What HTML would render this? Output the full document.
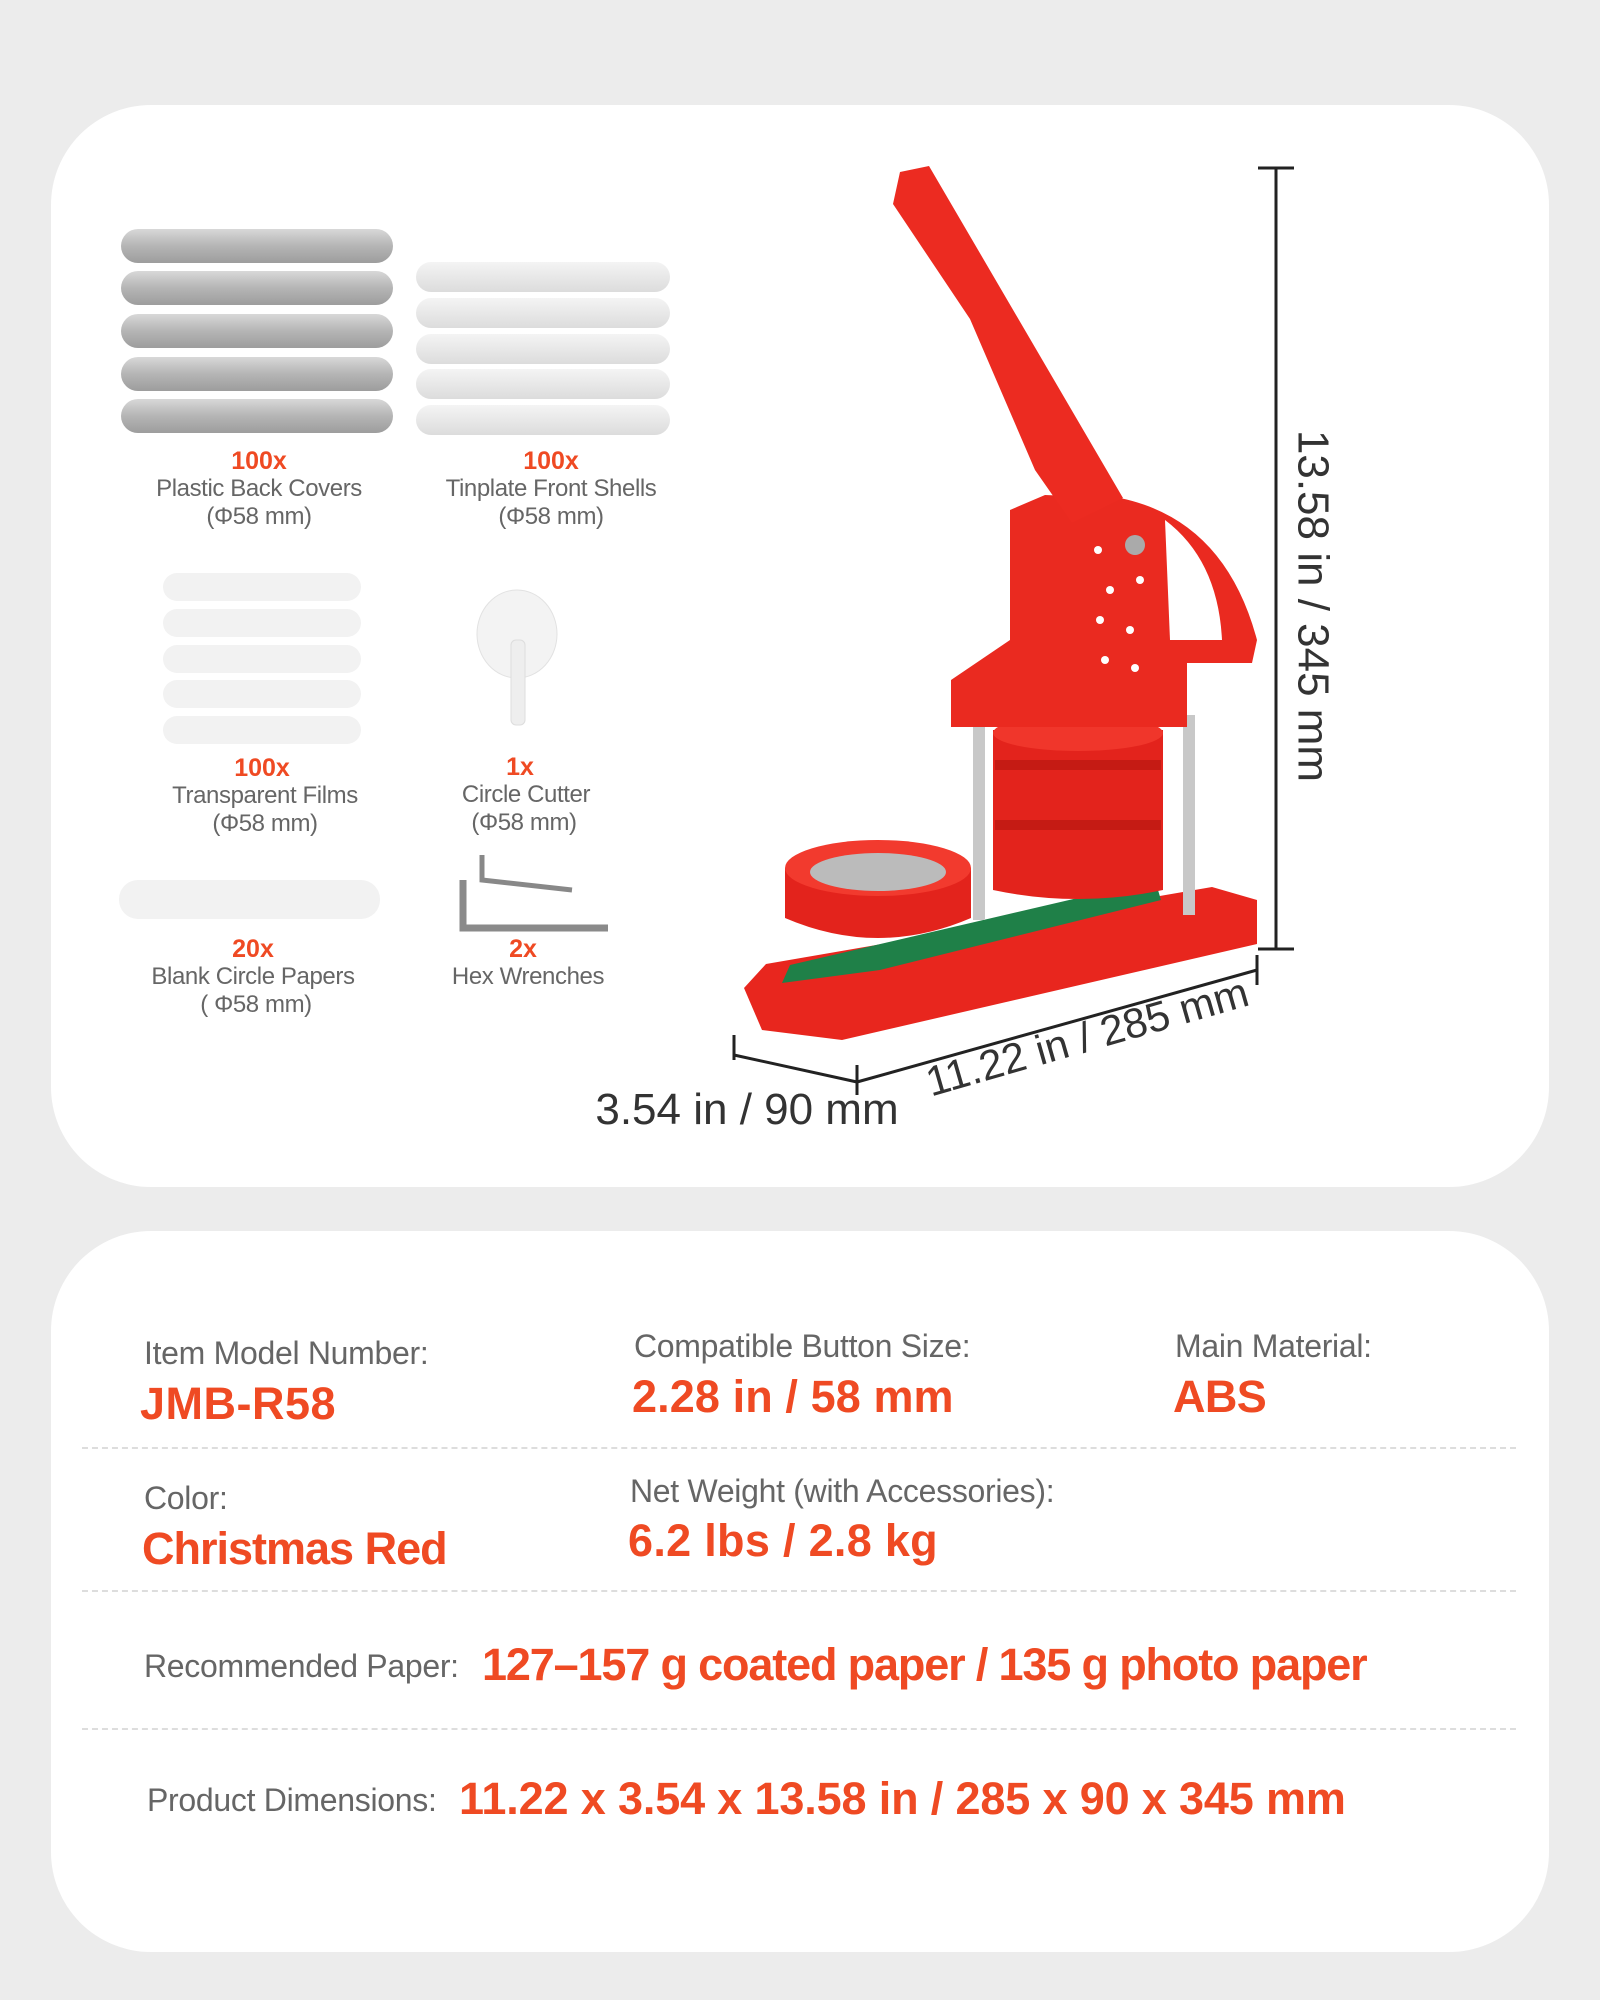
<!DOCTYPE html>
<html><head><meta charset="utf-8"><style>
body{margin:0;width:1600px;height:2000px;background:#ececec;position:relative;overflow:hidden;font-family:"Liberation Sans",sans-serif}
.card{position:absolute;left:51px;width:1498px;background:#fff;border-radius:100px}
.t{position:absolute;white-space:nowrap;line-height:1}
.g{color:#666;font-size:32px;letter-spacing:-0.3px}
.o{color:#ef4a23;font-weight:bold;font-size:45px;letter-spacing:-0.6px}
.c{transform:translateX(-50%);text-align:center}
.q{font-weight:bold;color:#ef4a23;font-size:25px}
.s{color:#666;font-size:24px;letter-spacing:-0.4px}
.dash{position:absolute;left:82px;width:1434px;border-top:2px dashed #ddd}
</style></head><body>
<div class="card" style="top:105px;height:1082px"></div>
<div class="card" style="top:1231px;height:721px"></div>

<svg style="position:absolute;left:0;top:0" width="1600" height="1200">
<defs>
<linearGradient id="gr" x1="0" y1="0" x2="0" y2="1"><stop offset="0" stop-color="#d8d8d8"/><stop offset=".5" stop-color="#b5b5b5"/><stop offset="1" stop-color="#9d9d9d"/></linearGradient>
<linearGradient id="lg" x1="0" y1="0" x2="0" y2="1"><stop offset="0" stop-color="#f4f4f4"/><stop offset="1" stop-color="#dcdcdc"/></linearGradient>
</defs>
<g fill="url(#gr)">
<rect x="121" y="229" width="272" height="34" rx="17"/><rect x="121" y="271" width="272" height="34" rx="17"/><rect x="121" y="314" width="272" height="34" rx="17"/><rect x="121" y="357" width="272" height="34" rx="17"/><rect x="121" y="399" width="272" height="34" rx="17"/>
</g>
<g fill="url(#lg)">
<rect x="416" y="262" width="254" height="30" rx="15"/><rect x="416" y="298" width="254" height="30" rx="15"/><rect x="416" y="334" width="254" height="30" rx="15"/><rect x="416" y="369" width="254" height="30" rx="15"/><rect x="416" y="405" width="254" height="30" rx="15"/>
</g>
<g fill="#f2f2f2">
<rect x="163" y="573" width="198" height="28" rx="14"/><rect x="163" y="609" width="198" height="28" rx="14"/><rect x="163" y="645" width="198" height="28" rx="14"/><rect x="163" y="680" width="198" height="28" rx="14"/><rect x="163" y="716" width="198" height="28" rx="14"/>
<rect x="119" y="880" width="261" height="39" rx="19"/>
</g>
<ellipse cx="517" cy="634" rx="40" ry="44" fill="#f3f3f3" stroke="#e2e2e2"/>
<rect x="511" y="640" width="14" height="85" rx="5" fill="#eee" stroke="#ddd"/>
<path d="M482 855 L482 880 L572 890" fill="none" stroke="#888" stroke-width="5"/>
<path d="M463 880 L463 928 L608 928" fill="none" stroke="#8a8a8a" stroke-width="7"/>

<path d="M744 988 L762 1030 L842 1040 L1257 944 L1257 900 L1212 887 L766 964 Z" fill="#e8261e"/>
<path d="M782 983 L880 970 L1161 900 L1155 880 L790 965 Z" fill="#1f8048"/>
<rect x="973" y="715" width="12" height="205" fill="#c8c8c8"/>
<rect x="1183" y="715" width="12" height="200" fill="#c8c8c8"/>
<path d="M993 730 h170 v160 q-85 18 -170 0 Z" fill="#e3231c"/>
<ellipse cx="1078" cy="733" rx="85" ry="18" fill="#f0362b"/>
<rect x="995" y="760" width="166" height="10" fill="#c51b14"/>
<rect x="995" y="820" width="166" height="10" fill="#c51b14"/>
<path d="M785 868 v50 q93 40 186 0 v-50 Z" fill="#e3231c"/>
<ellipse cx="878" cy="868" rx="93" ry="28" fill="#f23a2e"/>
<ellipse cx="878" cy="872" rx="68" ry="19" fill="#bbb"/>
<path d="M951 680 L1010 640 L1010 510 L1045 495 L1120 498 Q1225 520 1257 640 L1252 663 L1187 663 L1187 727 L951 727 Z" fill="#ea2a20"/>
<path d="M1165 520 Q1218 560 1222 640 L1170 640 Z" fill="#fff"/>
<path d="M900 172 L929 166 L1123 498 L1072 523 L1035 470 L970 319 L893 204 Z" fill="#ec2b21"/>
<circle cx="1135" cy="545" r="10" fill="#aaa"/>
<g fill="#fff"><circle cx="1098" cy="550" r="4"/><circle cx="1110" cy="590" r="4"/><circle cx="1140" cy="580" r="4"/><circle cx="1100" cy="620" r="4"/><circle cx="1130" cy="630" r="4"/><circle cx="1105" cy="660" r="4"/><circle cx="1135" cy="668" r="4"/></g>

<g stroke="#222" stroke-width="3" fill="none">
<line x1="1276" y1="168" x2="1276" y2="949"/><line x1="1258" y1="168" x2="1294" y2="168"/><line x1="1258" y1="949" x2="1294" y2="949"/>
<line x1="734" y1="1055" x2="857" y2="1082"/><line x1="734" y1="1035" x2="734" y2="1060"/>
<line x1="857" y1="1082" x2="1257" y2="970"/><line x1="857" y1="1065" x2="857" y2="1095"/><line x1="1257" y1="955" x2="1257" y2="985"/>
</g>
<text x="1310" y="606" transform="rotate(90 1310 606)" text-anchor="middle" dominant-baseline="middle" font-family="Liberation Sans" font-size="44" fill="#333">13.58 in / 345 mm</text>
<text x="1088" y="1040" transform="rotate(-16 1088 1040)" text-anchor="middle" dominant-baseline="middle" font-family="Liberation Sans" font-size="42" fill="#333">11.22 in / 285 mm</text>
<text x="747" y="1124" text-anchor="middle" font-family="Liberation Sans" font-size="44" fill="#333">3.54 in / 90 mm</text>
</svg>

<div class="t c q" style="left:259px;top:449px">100x</div>
<div class="t c s" style="left:259px;top:477px">Plastic Back Covers</div>
<div class="t c s" style="left:259px;top:505px">(Φ58 mm)</div>
<div class="t c q" style="left:551px;top:449px">100x</div>
<div class="t c s" style="left:551px;top:477px">Tinplate Front Shells</div>
<div class="t c s" style="left:551px;top:505px">(Φ58 mm)</div>
<div class="t c q" style="left:262px;top:756px">100x</div>
<div class="t c s" style="left:265px;top:784px">Transparent Films</div>
<div class="t c s" style="left:265px;top:812px">(Φ58 mm)</div>
<div class="t c q" style="left:520px;top:755px">1x</div>
<div class="t c s" style="left:526px;top:783px">Circle Cutter</div>
<div class="t c s" style="left:524px;top:811px">(Φ58 mm)</div>
<div class="t c q" style="left:253px;top:937px">20x</div>
<div class="t c s" style="left:253px;top:965px">Blank Circle Papers</div>
<div class="t c s" style="left:256px;top:993px">( Φ58 mm)</div>
<div class="t c q" style="left:523px;top:937px">2x</div>
<div class="t c s" style="left:528px;top:965px">Hex Wrenches</div>

<div class="t g" style="left:144px;top:1337px">Item Model Number:</div>
<div class="t o" style="left:140px;top:1381px;letter-spacing:0.5px">JMB-R58</div>
<div class="t g" style="left:634px;top:1330px">Compatible Button Size:</div>
<div class="t o" style="left:632px;top:1374px;letter-spacing:0.1px">2.28 in / 58 mm</div>
<div class="t g" style="left:1175px;top:1330px">Main Material:</div>
<div class="t o" style="left:1173px;top:1374px">ABS</div>
<div class="dash" style="top:1447px"></div>
<div class="t g" style="left:144px;top:1482px">Color:</div>
<div class="t o" style="left:142px;top:1526px;letter-spacing:-1px">Christmas Red</div>
<div class="t g" style="left:630px;top:1475px">Net Weight (with Accessories):</div>
<div class="t o" style="left:628px;top:1518px;letter-spacing:0.3px">6.2 lbs / 2.8 kg</div>
<div class="dash" style="top:1590px"></div>
<div class="t g" style="left:144px;top:1650px">Recommended Paper:</div>
<div class="t o" style="left:482px;top:1642px;letter-spacing:-1.15px">127–157 g coated paper / 135 g photo paper</div>
<div class="dash" style="top:1728px"></div>
<div class="t g" style="left:147px;top:1784px">Product Dimensions:</div>
<div class="t o" style="left:459px;top:1776px;letter-spacing:-0.15px">11.22 x 3.54 x 13.58 in / 285 x 90 x 345 mm</div>
</body></html>
